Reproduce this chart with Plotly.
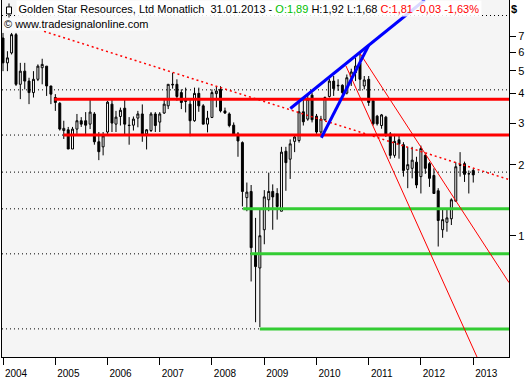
import pandas as pd
import numpy as np
import plotly.graph_objects as go

# ---------------- data ----------------
dates = pd.date_range("2004-01-01", "2013-01-01", freq="MS")

opens = [6.88, 5.40, 5.95, 7.11, 4.38, 4.98, 4.52, 4.04, 4.60, 5.15, 5.23, 4.31,
         3.85, 3.64, 2.79, 2.81, 2.33, 2.83, 3.07, 3.07, 2.97, 3.28, 2.50, 2.38,
         2.75, 3.61, 2.97, 3.20, 3.47, 2.94, 2.94, 3.15, 3.28, 2.70, 2.79, 3.28,
         3.03, 3.31, 3.55, 4.38, 4.38, 4.04, 3.75, 3.61, 3.07, 4.01, 3.55, 2.97,
         3.17, 4.00, 4.17, 3.38, 3.28, 2.94, 2.70, 2.48, 1.45, 1.54, 0.83, 0.73,
         1.06, 1.42, 1.54, 1.51, 1.27, 2.28, 2.11, 2.51, 2.53, 3.35, 3.12, 3.94,
         3.21, 2.75, 3.10, 3.89, 4.52, 4.34, 4.34, 4.02, 4.71, 4.91, 5.40, 4.31,
         4.60, 3.73, 3.21, 2.93, 3.18, 2.70, 2.19, 2.55, 2.43, 1.91, 1.93, 2.05,
         1.78, 2.19, 2.02, 1.80, 1.55, 1.06, 1.14, 1.18, 1.40, 2.00, 2.02, 1.83,
         1.89]
highs = [7.23, 6.05, 7.23, 7.23, 5.40, 5.40, 4.67, 4.98, 5.32, 5.62, 5.23, 4.31,
         3.98, 3.68, 3.07, 2.89, 2.89, 3.28, 3.18, 3.34, 3.79, 3.34, 2.75, 2.75,
         3.73, 3.79, 3.38, 3.49, 3.79, 3.18, 3.20, 3.38, 3.60, 2.83, 3.34, 3.34,
         3.34, 3.79, 4.38, 4.90, 4.60, 4.17, 4.24, 3.79, 4.24, 4.24, 3.61, 3.38,
         4.17, 4.30, 4.30, 3.49, 3.33, 3.02, 2.75, 2.51, 1.68, 1.64, 1.19, 1.31,
         1.56, 1.85, 1.65, 1.59, 2.38, 2.38, 2.56, 2.66, 3.79, 3.79, 3.97, 4.04,
         3.28, 3.22, 3.89, 4.63, 4.75, 4.60, 4.38, 4.82, 5.10, 5.67, 5.95, 4.75,
         4.75, 3.79, 3.25, 3.28, 3.22, 2.75, 2.70, 2.66, 2.49, 2.38, 2.38, 2.16,
         2.41, 2.22, 2.05, 1.93, 1.59, 1.31, 1.31, 1.44, 2.05, 2.26, 2.06, 1.89,
         1.92]
lows = [4.98, 4.98, 5.86, 4.31, 3.79, 4.17, 3.61, 3.85, 4.52, 4.38, 3.91, 3.61,
        3.38, 2.79, 2.57, 2.33, 2.33, 2.70, 2.89, 2.70, 2.83, 2.43, 2.09, 2.19,
        2.70, 2.75, 2.75, 2.93, 2.65, 2.43, 2.79, 2.88, 2.50, 2.32, 2.75, 2.75,
        2.75, 3.28, 3.44, 4.20, 3.73, 3.44, 3.33, 2.64, 3.04, 3.35, 2.97, 2.74,
        3.15, 3.50, 3.33, 3.28, 2.88, 2.65, 2.16, 1.33, 1.27, 0.64, 0.43, 0.41,
        0.92, 1.27, 1.06, 1.17, 1.27, 1.55, 1.74, 2.26, 2.48, 2.93, 3.07, 3.02,
        2.70, 2.66, 3.07, 3.85, 3.91, 4.11, 3.97, 3.97, 4.31, 4.52, 4.11, 4.17,
        3.55, 2.93, 2.93, 2.84, 2.62, 2.12, 2.14, 2.12, 1.78, 1.59, 1.75, 1.59,
        1.51, 1.83, 1.61, 1.51, 0.90, 0.98, 1.04, 1.11, 1.40, 1.78, 1.69, 1.51,
        1.68]
closes = [5.40, 5.67, 7.11, 4.38, 4.98, 4.52, 4.04, 4.60, 5.23, 5.32, 4.31, 3.98,
          3.67, 2.83, 2.85, 2.33, 2.83, 3.07, 2.97, 2.94, 3.34, 2.50, 2.27, 2.65,
          3.68, 3.00, 3.18, 3.40, 2.97, 2.93, 3.12, 3.28, 2.70, 2.81, 3.28, 2.93,
          3.28, 3.61, 4.38, 4.36, 3.89, 3.67, 3.71, 3.07, 4.01, 3.55, 2.97, 3.15,
          4.04, 4.10, 3.38, 3.31, 2.93, 2.70, 2.52, 1.54, 1.53, 0.89, 0.74, 1.00,
          1.46, 1.54, 1.46, 1.33, 2.26, 2.04, 2.45, 2.62, 3.35, 3.04, 3.79, 3.10,
          2.75, 3.12, 3.85, 4.52, 4.20, 4.32, 4.04, 4.67, 4.94, 5.23, 4.60, 4.57,
          3.67, 2.98, 2.98, 3.25, 2.66, 2.19, 2.51, 2.45, 1.89, 2.00, 2.09, 1.64,
          2.34, 1.93, 1.75, 1.51, 1.16, 1.17, 1.19, 1.42, 1.96, 1.99, 1.82, 1.83,
          1.81]

year_ticks = [f"{y}-01-01" for y in range(2004, 2014)]
year_labels = [str(y) for y in range(2004, 2014)]
price_ticks = [1, 2, 3, 4, 5, 6, 7]
price_labels = ["1", "2", "3", "4", "5", "6", "7"]

x_start, x_end = "2003-12-25", "2013-09-08"
y_min, y_max = 0.3063, 9.97

# Fibonacci retracement levels (dotted black)
fib_levels = [8.57, 4.15, 2.67, 1.86, 1.30, 0.838, 0.403]
# red resistance lines: level, start date
red_levels = [3.79, 2.67]
red_starts = ["2004-12-25", "2005-02-27"]
# green support lines
green_levels = [1.30, 0.838, 0.403]
green_starts = ["2008-08-06", "2008-09-26", "2008-12-01"]

# trend lines: (date0, price0, date1, price1)
red_dotted_trend = ("2004-10-14", 7.34, x_end, 1.73)
blue_upper = ("2009-07-02", 3.46, "2012-01-28", 9.97)
blue_lower = ("2010-02-04", 2.60, "2011-01-01", 6.40)
red_down_1 = ("2010-11-02", 5.91, x_end, 0.633)
red_down_2 = ("2010-07-26", 5.24, "2013-02-24", 0.281)

fig = go.Figure()

fig.add_trace(go.Candlestick(
    x=dates, open=opens, high=highs, low=lows, close=closes,
    increasing=dict(line=dict(color="black", width=1), fillcolor="white"),
    decreasing=dict(line=dict(color="black", width=1), fillcolor="black"),
    whiskerwidth=0, showlegend=False, hoverinfo="skip"))

def line(x0, y0, x1, y1, color, width, dash="solid"):
    fig.add_trace(go.Scatter(x=[x0, x1], y=[y0, y1], mode="lines",
                             line=dict(color=color, width=width, dash=dash),
                             showlegend=False, hoverinfo="skip"))

for lv in fib_levels:
    line(x_start, lv, x_end, lv, "black", 1, "1px,3px")
for lv, st in zip(red_levels, red_starts):
    line(st, lv, x_end, lv, "#ff0000", 3)
for lv, st in zip(green_levels, green_starts):
    line(st, lv, x_end, lv, "#33cc33", 3)

line(*red_dotted_trend, "#ff0000", 1.5, "2px,3px")
line(*red_down_1, "#ff0000", 1)
line(*red_down_2, "#ff0000", 1)
line(*blue_upper, "#0000ff", 3)
line(*blue_lower, "#0000ff", 3)

font = "Liberation Sans, Arial, sans-serif"
header = ("Golden Star Resources, Ltd Monatlich\u00a0\u00a031.01.2013 - "
          "<span style='color:#00c000'>O:1,89</span> H:1,92 L:1,68 "
          "<span style='color:#ff0000'>C:1,81 -0,03 -1,63%</span>")

fig.update_layout(
    width=526, height=379,
    margin=dict(l=2, r=17, t=0, b=19),
    paper_bgcolor="white", plot_bgcolor="#f5f5f5",
    font=dict(family=font, size=10, color="black"),
    xaxis=dict(type="date", range=[x_start, x_end], rangeslider=dict(visible=False),
               tickvals=year_ticks, ticktext=year_labels, ticks="outside", ticklen=7,
               tickcolor="black", showgrid=False, zeroline=False, showline=True,
               linecolor="black", linewidth=1, ticklabelshift=13,
               tickfont=dict(family=font, size=10, color="black")),
    yaxis=dict(type="log", side="right", range=[np.log10(y_min), np.log10(y_max)],
               tickvals=price_ticks, ticktext=price_labels, ticks="outside", ticklen=6,
               tickcolor="black", showgrid=False, zeroline=False, showline=True,
               mirror=True, linecolor="black", linewidth=1,
               tickfont=dict(family=font, size=11, color="black")),
    annotations=[
        dict(text=header, xref="paper", yref="paper", x=(16 - 2) / 507, y=1,
             xanchor="left", yanchor="top", showarrow=False, borderpad=1.5,
             bgcolor="rgba(255,255,255,0.85)",
             font=dict(family=font, size=11, color="black")),
        dict(text="© www.tradesignalonline.com", xref="paper", yref="paper",
             x=(3 - 2) / 507, y=(360 - 24) / 360, xanchor="left", yanchor="middle",
             showarrow=False, borderpad=0, bgcolor="rgba(255,255,255,0.6)",
             font=dict(family=font, size=11, color="black")),
        dict(text="<b>$</b>", xref="paper", yref="paper", x=(514 - 2) / 507,
             y=(360 - 9) / 360, xanchor="center", yanchor="middle", showarrow=False,
             font=dict(family=font, size=11, color="black")),
    ],
    shapes=[
        dict(type="line", xref="paper", yref="paper", x0=7 / 507, x1=7 / 507,
             y0=(360 - 3.5) / 360, y1=(360 - 18) / 360, line=dict(color="black", width=1)),
        dict(type="rect", xref="paper", yref="paper", x0=4.5 / 507, x1=9.5 / 507,
             y0=(360 - 7) / 360, y1=(360 - 14) / 360, fillcolor="white",
             line=dict(color="black", width=1)),
    ],
)

fig.write_html("out.html")
